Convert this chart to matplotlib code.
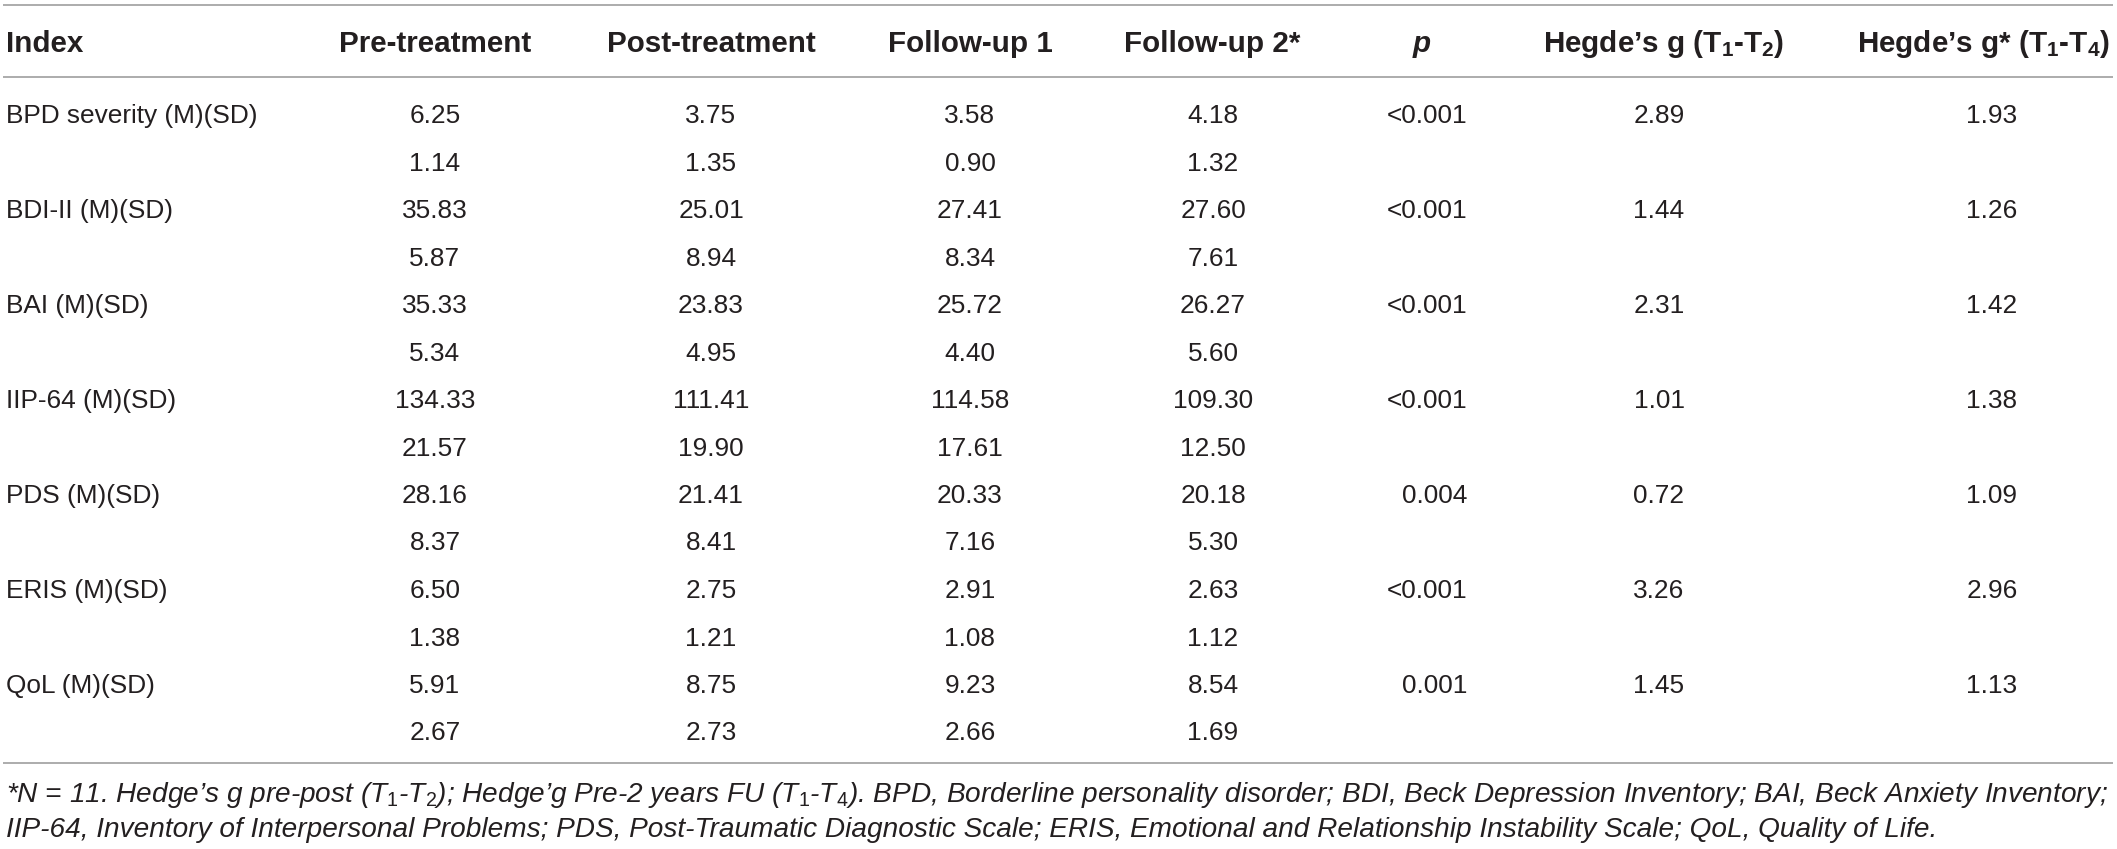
import matplotlib
matplotlib.use("Agg")
import matplotlib.pyplot as plt
from matplotlib import font_manager

# ---------------- data ----------------
row_labels = ["BPD severity (M)(SD)", "BDI-II (M)(SD)", "BAI (M)(SD)", "IIP-64 (M)(SD)",
              "PDS (M)(SD)", "ERIS (M)(SD)", "QoL (M)(SD)"]
pre_m = ["6.25", "35.83", "35.33", "134.33", "28.16", "6.50", "5.91"]
pre_sd = ["1.14", "5.87", "5.34", "21.57", "8.37", "1.38", "2.67"]
post_m = ["3.75", "25.01", "23.83", "111.41", "21.41", "2.75", "8.75"]
post_sd = ["1.35", "8.94", "4.95", "19.90", "8.41", "1.21", "2.73"]
fu1_m = ["3.58", "27.41", "25.72", "114.58", "20.33", "2.91", "9.23"]
fu1_sd = ["0.90", "8.34", "4.40", "17.61", "7.16", "1.08", "2.66"]
fu2_m = ["4.18", "27.60", "26.27", "109.30", "20.18", "2.63", "8.54"]
fu2_sd = ["1.32", "7.61", "5.60", "12.50", "5.30", "1.12", "1.69"]
p_vals = ["<0.001", "<0.001", "<0.001", "<0.001", "0.004", "<0.001", "0.001"]
g_t1t2 = ["2.89", "1.44", "2.31", "1.01", "0.72", "3.26", "1.45"]
g_t1t4 = ["1.93", "1.26", "1.42", "1.38", "1.09", "2.96", "1.13"]

headers = ["Index", "Pre-treatment", "Post-treatment", "Follow-up 1", "Follow-up 2*", "p",
           r"Hegde’s g (T$_\mathbf{1}$-T$_\mathbf{2}$)",
           r"Hegde’s g* (T$_\mathbf{1}$-T$_\mathbf{4}$)"]

footnote_1 = (r"*N = 11. Hedge’s g pre-post (T$_\mathit{1}$-T$_\mathit{2}$); Hedge’g Pre-2 years FU "
              r"(T$_\mathit{1}$-T$_\mathit{4}$). BPD, Borderline personality disorder; BDI, Beck "
              r"Depression Inventory; BAI, Beck Anxiety Inventory;")
footnote_2 = ("IIP-64, Inventory of Interpersonal Problems; PDS, Post-Traumatic Diagnostic Scale; "
              "ERIS, Emotional and Relationship Instability Scale; QoL, Quality of Life.")

# ---------------- fonts ----------------
names = {f.name for f in font_manager.fontManager.ttflist}
if "Liberation Sans Narrow" in names:
    reg_family = "Liberation Sans Narrow"
    reg_scale = 1.0
else:
    reg_family = "Liberation Sans"
    reg_scale = 0.82

plt.rcParams["mathtext.fontset"] = "custom"
plt.rcParams["mathtext.rm"] = "Liberation Sans"
plt.rcParams["mathtext.bf"] = "Liberation Sans:bold"
plt.rcParams["mathtext.it"] = "Liberation Sans:italic"

TEXT = "#231f20"
LINE = "#a6a6a6"

W, H = 2117, 849
fig = plt.figure(figsize=(W / 100, H / 100), dpi=100)
ax = fig.add_axes([0, 0, 1, 1])
ax.set_xlim(0, W)
ax.set_ylim(H, 0)
ax.axis("off")

reg_size = 23 * reg_scale
head_size = 21.3
foot_size = 20

# rules
for y in (5, 77, 763):
    ax.plot([3, 2113], [y, y], color=LINE, lw=1.3, solid_capstyle="butt")

# header
head_x = [6, 435, 711, 970, 1212, 1422, 1664, 1983]
head_ha = ["left"] + ["center"] * 7
for i, (h, x, ha) in enumerate(zip(headers, head_x, head_ha)):
    style = "italic" if h == "p" else "normal"
    ax.text(x, 52, h, ha=ha, va="baseline", fontsize=head_size, fontweight="bold",
            family="Liberation Sans", style=style, color=TEXT)

# body
base0 = 123
step = 47.5
col_x = [435, 711, 970, 1213]
means = [pre_m, post_m, fu1_m, fu2_m]
sds = [pre_sd, post_sd, fu1_sd, fu2_sd]
for r in range(len(row_labels)):
    y_m = base0 + step * (2 * r)
    y_s = base0 + step * (2 * r + 1)
    ax.text(6, y_m, row_labels[r], ha="left", va="baseline", fontsize=reg_size,
            family=reg_family, color=TEXT)
    for c in range(4):
        ax.text(col_x[c], y_m, means[c][r], ha="center", va="baseline", fontsize=reg_size,
                family=reg_family, color=TEXT)
        ax.text(col_x[c], y_s, sds[c][r], ha="center", va="baseline", fontsize=reg_size,
                family=reg_family, color=TEXT)
    ax.text(1467, y_m, p_vals[r], ha="right", va="baseline", fontsize=reg_size,
            family=reg_family, color=TEXT)
    ax.text(1659, y_m, g_t1t2[r], ha="center", va="baseline", fontsize=reg_size,
            family=reg_family, color=TEXT)
    ax.text(1992, y_m, g_t1t4[r], ha="center", va="baseline", fontsize=reg_size,
            family=reg_family, color=TEXT)

# footnote (size fitted so line 1 spans the table width)
f1 = ax.text(6, 802, footnote_1, ha="left", va="baseline", fontsize=foot_size,
             family="Liberation Sans", style="italic", color=TEXT)
fig.canvas.draw()
w1 = f1.get_window_extent(renderer=fig.canvas.get_renderer()).width
foot_size = foot_size * 2100.0 / w1
f1.set_fontsize(foot_size)
ax.text(6, 837, footnote_2, ha="left", va="baseline", fontsize=foot_size,
        family="Liberation Sans", style="italic", color=TEXT)

fig.savefig("out.png", dpi=100)
